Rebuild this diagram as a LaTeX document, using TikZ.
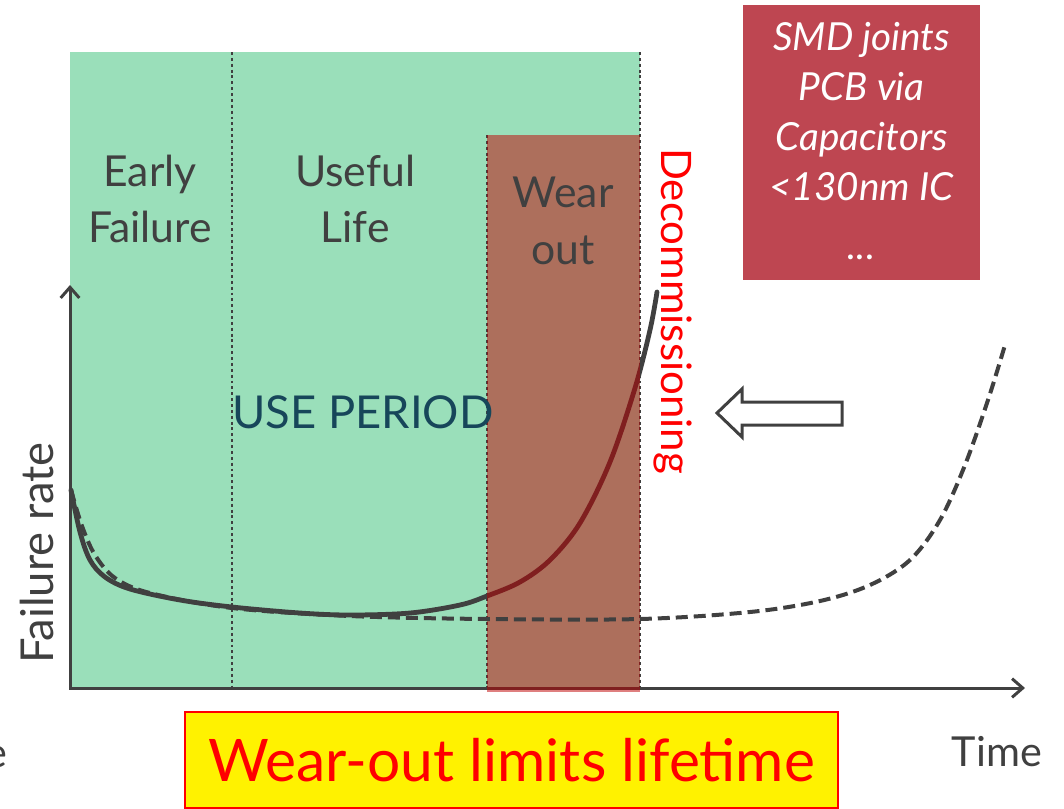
\documentclass[tikz,border=0pt]{standalone}
\usepackage{fontspec}
\setmainfont{Lato}
\usetikzlibrary{arrows.meta}
\definecolor{grn}{HTML}{9ADFBA}
\definecolor{wearred}{HTML}{C00000}
\definecolor{dk}{HTML}{404040}
\definecolor{boxred}{HTML}{BE4651}
\definecolor{useteal}{HTML}{17465A}
\begin{document}
\begin{tikzpicture}[x=0.75pt,y=-0.75pt,
  lbl/.style={text=dk, font=\fontsize{32}{42.5}\selectfont, align=center, inner sep=0pt},
  divider/.style={dk, line width=2pt, dash pattern=on 2.2pt off 2.2pt},
  axis/.style={dk, line width=2.25pt, {Straight Barb[length=8pt,width=14pt,line width=2.25pt]}-{Straight Barb[length=8pt,width=14pt,line width=2.25pt]}},
  curve/.style={dk, line width=3.6pt, line cap=round},
  dashcurve/.style={dk, line width=3pt, dash pattern=on 9pt off 4.5pt}]
\useasboundingbox (0,0) rectangle (1064,808);
% background zones
\fill[grn] (70,52) rectangle (640,688);
\draw[divider] (232,52) -- (232,688);
\draw[divider] (640,52) -- (640,688);
\draw[divider] (487,135) -- (487,688);
% axes
\draw[axis] (70,285) -- (70,688) -- (1025,688);
% actual curve
\draw[curve] plot[smooth, tension=0.55] coordinates {(71,490) (80,532) (90,560) (105,577) (130,589) (180,600) (232,607) (300,613) (350,615) (410,613) (460,605) (487,596) (520,582) (550,560) (580,523) (610,462) (635,388) (650,330) (657,292)};
% wear-out zone
\fill[wearred, opacity=0.5] (487,135) rectangle (640,692);
% improved curve
\draw[dashcurve] plot[smooth, tension=0.55] coordinates {(71,490) (82,526) (95,555) (115,578) (150,593) (232,608) (350,616) (487,619) (640,619) (750,612) (820,601) (870,585) (910,560) (940,520) (965,465) (988,400) (1005,345)};
% labels
\node[lbl] (early) at (150,199) {Early\\Failure};
\node[lbl] (useful) at (355,199) {Useful\\Life};
\node[lbl] (wearout) at (563,221) {Wear\\out};
\node[text=useteal, font=\fontsize{34}{38}\selectfont, inner sep=0pt] (use) at (363,412) {USE PERIOD};
\node[text=red, rotate=-90, font=\fontsize{31.5}{36}\selectfont, inner sep=0pt] (decom) at (673,311) {Decommissioning};
\node[text=dk, rotate=90, font=\fontsize{34}{38}\selectfont, inner sep=0pt] (frate) at (37,553) {Failure rate};
\node[text=dk, font=\fontsize{31}{36}\selectfont, inner sep=0pt] (time) at (997,752) {Time};
\node[text=dk, font=\fontsize{31}{36}\selectfont, inner sep=0pt, anchor=base east] (cut) at (8,767) {e};
% outline arrow
\draw[dk, line width=2.25pt, fill=white, line join=miter] (717,413) -- (742,389) -- (742,402) -- (842,402) -- (842,425) -- (742,425) -- (742,437) -- cycle;
% mechanism box
\node[fill=boxred, minimum width=177.75pt, minimum height=206.25pt, text=white, align=center, inner sep=0pt,
  font=\itshape\fontsize{29}{37.5}\selectfont] (smd) at (861.5,142.5) {};
\node[text=white, align=center, inner sep=0pt, font=\itshape\fontsize{29}{37.5}\selectfont, anchor=north] (smdtext) at (861.5,22) {SMD joints\\PCB via\\Capacitors\\<130nm IC\\[7pt]...};
% conclusion box
\node[fill=yellow, draw=red, line width=0.9pt, minimum width=489.75pt, minimum height=72pt, inner sep=0pt,
  text=red, font=\fontsize{44}{50}\selectfont] (concl) at (511.5,760) {Wear-out limits lifetime};
\end{tikzpicture}
\end{document}
